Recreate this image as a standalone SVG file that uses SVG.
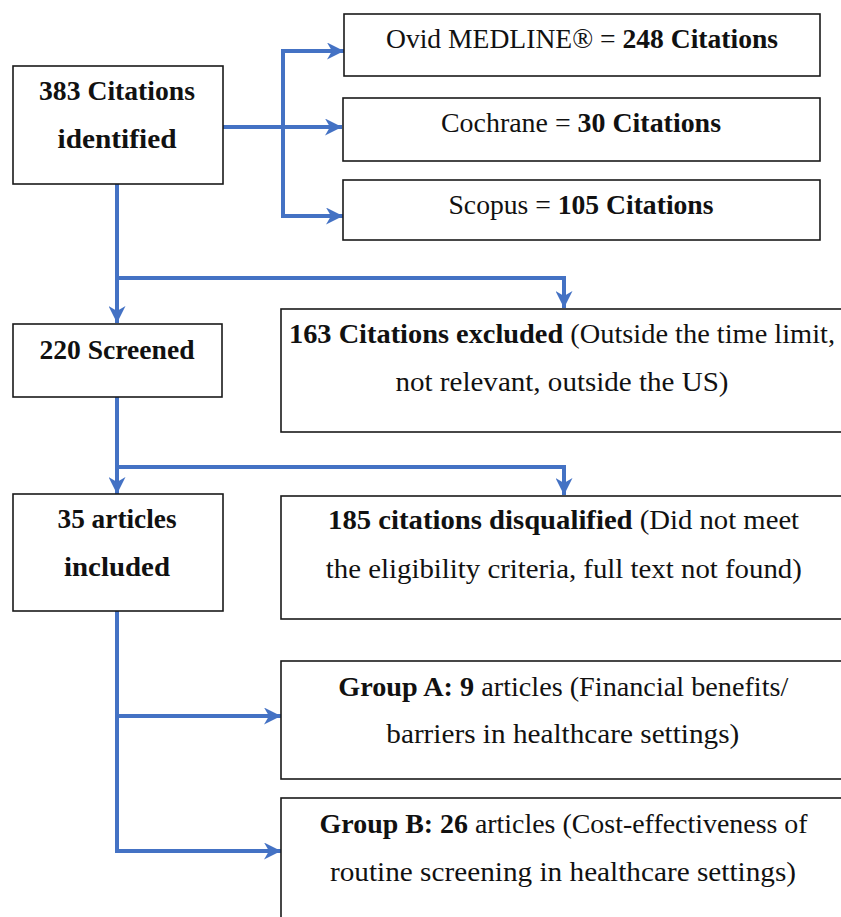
<svg xmlns="http://www.w3.org/2000/svg" width="841" height="917" viewBox="0 0 841 917">
<style>
.box{fill:#fff;stroke:#1a1a1a;stroke-width:1.6}
.t{font-family:"Liberation Serif","Times New Roman",serif;font-size:27px;fill:#111;text-anchor:middle}
.b{font-weight:bold}
.c{fill:none;stroke:#4472C4;stroke-width:4}
</style>
<defs>
<marker id="ah" markerUnits="userSpaceOnUse" viewBox="0 0 17 17" markerWidth="17" markerHeight="17" refX="17" refY="8.5" orient="auto">
<path d="M0,0 L17,8.5 L0,17 L5,8.5 Z" fill="#4472C4"/>
</marker>
</defs>
<rect width="841" height="917" fill="#fff"/>
<g id="connectors">
<path class="c" d="M223,127 H342" marker-end="url(#ah)"/>
<path class="c" d="M283,49 V218"/>
<path class="c" d="M281,51 H344" marker-end="url(#ah)"/>
<path class="c" d="M281,216 H343" marker-end="url(#ah)"/>
<path class="c" d="M117,184 V323" marker-end="url(#ah)"/>
<path class="c" d="M117,278 H564 V308" marker-end="url(#ah)"/>
<path class="c" d="M117,397 V494" marker-end="url(#ah)"/>
<path class="c" d="M117,467 H564 V495" marker-end="url(#ah)"/>
<path class="c" d="M115,716 H281" marker-end="url(#ah)"/>
<path class="c" d="M117,611 V851 H281" marker-end="url(#ah)"/>
</g>
<g id="identified">
<rect class="box" x="13" y="66" width="210" height="118"/>
<text class="t b" x="117" y="100" textLength="156" lengthAdjust="spacingAndGlyphs">383 Citations</text>
<text class="t b" x="117" y="148" textLength="119" lengthAdjust="spacingAndGlyphs">identified</text>
</g>
<g id="ovid">
<rect class="box" x="344" y="14" width="476" height="62"/>
<text class="t" x="582" y="48" textLength="392" lengthAdjust="spacingAndGlyphs">Ovid MEDLINE® = <tspan class="b">248 Citations</tspan></text>
</g>
<g id="cochrane">
<rect class="box" x="343" y="98" width="477" height="63"/>
<text class="t" x="581" y="132" textLength="280" lengthAdjust="spacingAndGlyphs">Cochrane = <tspan class="b">30 Citations</tspan></text>
</g>
<g id="scopus">
<rect class="box" x="343" y="180" width="477" height="60"/>
<text class="t" x="581" y="214" textLength="265" lengthAdjust="spacingAndGlyphs">Scopus = <tspan class="b">105 Citations</tspan></text>
</g>
<g id="screened">
<rect class="box" x="13" y="324" width="209" height="73"/>
<text class="t b" x="117" y="359" textLength="155" lengthAdjust="spacingAndGlyphs">220 Screened</text>
</g>
<g id="excluded">
<rect class="box" x="281" y="309" width="580" height="123"/>
<text class="t" x="562" y="343" textLength="546" lengthAdjust="spacingAndGlyphs"><tspan class="b">163 Citations excluded</tspan> (Outside the time limit,</text>
<text class="t" x="562" y="391" textLength="333" lengthAdjust="spacingAndGlyphs">not relevant, outside the US)</text>
</g>
<g id="included">
<rect class="box" x="13" y="494" width="210" height="117"/>
<text class="t b" x="117" y="528" textLength="119" lengthAdjust="spacingAndGlyphs">35 articles</text>
<text class="t b" x="117" y="576" textLength="106" lengthAdjust="spacingAndGlyphs">included</text>
</g>
<g id="disqualified">
<rect class="box" x="281" y="496" width="580" height="123"/>
<text class="t" x="563.6" y="529" textLength="471" lengthAdjust="spacingAndGlyphs"><tspan class="b">185 citations disqualified</tspan> (Did not meet</text>
<text class="t" x="563.8" y="578" textLength="476" lengthAdjust="spacingAndGlyphs">the eligibility criteria, full text not found)</text>
</g>
<g id="groupA">
<rect class="box" x="281" y="661" width="580" height="118"/>
<text class="t" x="563.3" y="696" textLength="450" lengthAdjust="spacingAndGlyphs"><tspan class="b">Group A: 9</tspan> articles (Financial benefits/</text>
<text class="t" x="562.8" y="743" textLength="353" lengthAdjust="spacingAndGlyphs">barriers in healthcare settings)</text>
</g>
<g id="groupB">
<rect class="box" x="281" y="798" width="580" height="150"/>
<text class="t" x="563.6" y="833" textLength="488" lengthAdjust="spacingAndGlyphs"><tspan class="b">Group B: 26</tspan> articles (Cost-effectiveness of</text>
<text class="t" x="563" y="881" textLength="466" lengthAdjust="spacingAndGlyphs">routine screening in healthcare settings)</text>
</g>
</svg>
